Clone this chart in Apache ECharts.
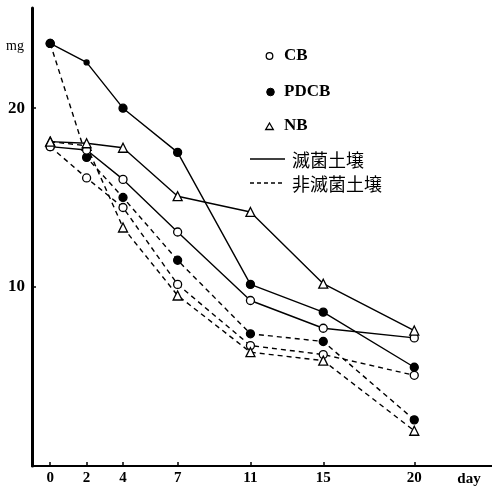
<!DOCTYPE html>
<html><head><meta charset="utf-8">
<script src="https://cdn.jsdelivr.net/npm/echarts@6/dist/echarts.min.js"></script>
<style>html,body{margin:0;padding:0;background:#fff}#c{width:492px;height:489px}</style>
</head><body><div id="c"></div>
<script>
const days = [0, 2, 4, 7, 11, 15, 20];
const xTickLabels = [0, 2, 4, 7, 11, 15, 20];
const yTickLabels = [10, 20];
// 滅菌土壌 (sterile soil) - solid lines
const cbSterile   = [17.85, 17.66, 16.02, 13.08, 9.25, 7.70, 7.16];
const pdcbSterile = [23.62, 22.56, 20.00, 17.53, 10.15, 8.60, 5.52];
const nbSterile   = [18.13, 18.04, 17.79, 15.08, 14.20, 10.19, 7.57];
// 非滅菌土壌 (non-sterile soil) - dashed lines
const cbNonSterile   = [17.85, 16.10, 14.45, 10.15, 6.73, 6.23, 5.07];
const pdcbNonSterile = [23.62, 17.25, 15.01, 11.50, 7.39, 6.96, 2.58];
const nbNonSterile   = [18.13, 17.90, 13.33, 9.53, 6.36, 5.89, 1.97];

const serif = "'Liberation Serif','DejaVu Serif',serif";
const jp = "'Noto Sans CJK JP','Noto Sans CJK SC',sans-serif";

function pts(vals) { return days.map((d, i) => [d, vals[i]]); }
function mk(name, vals, symbol, filled, dashed, sizeFn) {
  const base = symbol === 'triangle' ? 9 : 8;
  return {
    name: name, type: 'line', data: pts(vals), symbol: symbol,
    symbolSize: sizeFn || base, showSymbol: true,
    itemStyle: { color: filled ? '#000' : '#fff', borderColor: '#000', borderWidth: 1.3 },
    lineStyle: { color: '#000', width: 1.4, type: dashed ? [5, 4] : 'solid' },
    z: dashed ? 2 : 3, animation: false, emphasis: { disabled: true }
  };
}

const chart = echarts.init(document.getElementById('c'), null, { renderer: 'canvas' });
chart.setOption({
  backgroundColor: '#fff',
  animation: false,
  grid: { left: 32, right: 0, top: 8, bottom: 23 },
  xAxis: {
    type: 'value', min: -1, max: 24.27, splitLine: { show: false },
    axisLine: { show: true, onZero: false, lineStyle: { color: '#000', width: 2 } },
    axisTick: { show: true, inside: true, length: 4, customValues: xTickLabels, lineStyle: { color: '#000', width: 1.5 } },
    axisLabel: { customValues: xTickLabels, color: '#000', fontFamily: serif, fontWeight: 'bold', fontSize: 15, margin: 5 }
  },
  yAxis: {
    type: 'value', min: 0, max: 25.6, splitLine: { show: false },
    axisLine: { show: true, onZero: false, lineStyle: { color: '#000', width: 3 } },
    axisTick: { show: true, inside: true, length: 4, customValues: yTickLabels, lineStyle: { color: '#000', width: 1.5 } },
    axisLabel: { customValues: yTickLabels, color: '#000', fontFamily: serif, fontWeight: 'bold', fontSize: 17, margin: 7 }
  },
  series: [
    mk('CB 非滅菌土壌', cbNonSterile, 'circle', false, true),
    mk('PDCB 非滅菌土壌', pdcbNonSterile, 'circle', true, true),
    mk('NB 非滅菌土壌', nbNonSterile, 'triangle', false, true),
    mk('CB 滅菌土壌', cbSterile, 'circle', false, false),
    mk('PDCB 滅菌土壌', pdcbSterile, 'circle', true, false, function (v, p) { return p.dataIndex === 1 ? 5 : 8; }),
    mk('NB 滅菌土壌', nbSterile, 'triangle', false, false)
  ],
  graphic: [
    { type: 'text', x: 15, y: 46, style: { text: 'mg', font: "14px " + serif, fill: '#000', align: 'center', verticalAlign: 'middle' } },
    { type: 'text', x: 469, y: 479, style: { text: 'day', font: "bold 15px " + serif, fill: '#000', align: 'center', verticalAlign: 'middle' } },
    { type: 'circle', shape: { cx: 269.5, cy: 56, r: 3.3 }, style: { fill: '#fff', stroke: '#000', lineWidth: 1.3 } },
    { type: 'text', x: 284, y: 56, style: { text: 'CB', font: "bold 17px " + serif, fill: '#000', verticalAlign: 'middle' } },
    { type: 'circle', shape: { cx: 270.5, cy: 92, r: 3.8 }, style: { fill: '#000', stroke: '#000', lineWidth: 1 } },
    { type: 'text', x: 284, y: 92, style: { text: 'PDCB', font: "bold 17px " + serif, fill: '#000', verticalAlign: 'middle' } },
    { type: 'polygon', shape: { points: [[269.5, 123], [273.3, 129.5], [265.7, 129.5]] }, style: { fill: '#fff', stroke: '#000', lineWidth: 1.3 } },
    { type: 'text', x: 284, y: 126, style: { text: 'NB', font: "bold 17px " + serif, fill: '#000', verticalAlign: 'middle' } },
    { type: 'line', shape: { x1: 250, y1: 159, x2: 285, y2: 159 }, style: { stroke: '#000', lineWidth: 1.3 } },
    { type: 'text', x: 292, y: 160, style: { text: '滅菌土壌', font: "18px " + jp, fill: '#000', verticalAlign: 'middle' } },
    { type: 'line', shape: { x1: 250, y1: 183, x2: 285, y2: 183 }, style: { stroke: '#000', lineWidth: 1.3, lineDash: [4, 3] } },
    { type: 'text', x: 292, y: 184, style: { text: '非滅菌土壌', font: "18px " + jp, fill: '#000', verticalAlign: 'middle' } }
  ]
});
</script>
</body></html>
